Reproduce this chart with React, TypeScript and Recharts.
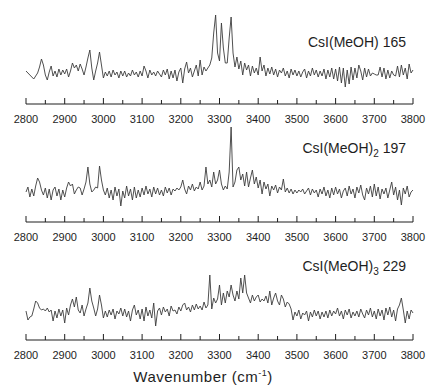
import React from 'react';
import { LineChart, Line, XAxis, YAxis } from 'recharts';

// sampling grid of the spectra (cm-1)
const WAVENUMBERS = Array.from({ length: 201 }, (_, i) => 2800 + i * 5);

const TICKS = [
  2800, 2850, 2900, 2950, 3000, 3050, 3100, 3150, 3200, 3250, 3300,
  3350, 3400, 3450, 3500, 3550, 3600, 3650, 3700, 3750, 3800,
];

// CsI(MeOH) 165
const spec1 = [
  2, 0, -2, -4, -6, -3, 0, 6, 14, 8,
  -2, -7, 1, 7, -3, 2, -4, 4, -2, 3,
  -1, 4, -4, 2, 10, 5, 8, 2, 9, 4,
  -2, 6, 15, 23, 5, -7, 2, 10, 21, 8,
  -5, 1, -3, 2, -4, 3, -2, 1, -5, 2,
  -3, 2, -4, 0, -3, 3, -2, 1, -4, 2,
  -3, 7, 2, -5, 3, -2, 1, -3, 2, -1,
  -4, 3, -2, 4, -6, 2, -5, 3, -8, 1,
  5, -10, 4, 11, 0, 5, -4, 2, 8, -3,
  13, -2, 6, 2, 5, 8, 15, 40, 58, 20,
  12, 50, 25, 10, 10, 35, 56, 20, 6, 16,
  4, 12, -2, 10, 3, 8, -3, 7, 0, 5,
  -2, 16, 2, 8, -3, 5, -1, 6, -2, 4,
  -4, 3, 0, 5, -3, 2, -5, 4, -2, 3,
  -3, 2, -4, 1, 4, -5, 2, -3, 5, -2,
  3, -4, 2, -3, 4, -6, 3, -4, 5, -6,
  4, -8, 6, -10, 5, -14, 3, -11, 6, -7,
  5, -5, 8, 2, -7, 5, -4, 4, -3, 0,
  -1, -2, -2, 6, -4, 5, -6, 3, -5, 2,
  -2, -3, 7, -4, 8, -2, 5, -6, 9, 0,
  3,
];

// CsI(MeOH)2 197
const spec2 = [
  0, 5, -5, 3, -4, 6, 14, 10, 2, -3,
  4, -6, 3, -8, 2, 5, -4, 3, -8, 2,
  -5, 4, 10, 6, 8, -2, 2, 5, 4, -3,
  3, 10, 25, 8, 0, 2, 5, 4, 26, 12,
  2, -3, 4, -6, 2, -8, 5, -4, 3, -14,
  1, -6, 6, -4, 3, -8, 5, -6, 2, -5,
  4, -3, 6, -2, 3, -5, 5, -2, 4, -3,
  2, -4, 5, -1, 4, -3, 3, 1, 4, 2,
  5, 12, 3, -2, 6, 2, 8, 1, 5, 3,
  10, 2, 6, 25, 8, 12, 5, 20, 8, 12,
  22, 8, 2, 6, 3, 20, 65, 5, 10, 22,
  25, 12, 18, 6, 20, 5, 14, 22, 8, 15,
  4, 12, -2, 10, 3, 8, -4, 6, 2, 7,
  -1, 5, 2, 13, 0, 4, -1, 3, -2, 2,
  -1, 2, 0, 3, -2, 1, 4, -3, 3, -1,
  2, -5, 3, -2, 5, -4, 2, -6, 4, -3,
  5, -2, 3, -6, 1, 4, -4, 6, -2, 3,
  -6, 5, -1, 7, -3, -8, 4, -2, 6, -5,
  8, -4, 5, -7, 3, -2, 4, -6, 2, 10,
  -3, 5, -8, 2, -13, 4, -2, 6, -5, 0,
  2,
];

// CsI(MeOH)3 229
const spec3 = [
  2, -7, -4, -3, 4, 12, 10, 5, 3, 4,
  2, 5, 1, 3, -8, 2, -5, 4, -3, 3,
  -10, 5, -2, 8, 14, 6, 16, 3, 0, 8,
  -3, 4, 10, 25, 12, 5, -3, 4, 18, 8,
  -5, 2, -4, 3, -2, 4, -6, 2, -1, 5,
  -3, 4, -4, 2, -8, 3, 8, -2, 3, -6,
  4, -8, 6, -3, 3, -5, 10, -13, 2, 5,
  -2, 6, 1, 4, -3, 7, 2, 3, -1, 6,
  2, 8, 10, 3, 6, 1, 8, 3, 9, 4,
  7, 3, 11, 5, 8, 38, 4, 15, 10, 14,
  28, 8, 20, 10, 22, 16, 28, 18, 12, 22,
  14, 35, 20, 38, 20, 15, 10, 18, 12, 16,
  18, 11, 14, 12, 17, 10, 22, 8, 15, 20,
  12, 8, 18, 14, 6, 11, 9, 4, -7, 1,
  -3, 3, -6, 0, -2, 2, -8, 1, -4, 3,
  -3, 2, -6, 1, -4, 2, -5, 3, -3, 2,
  -1, 5, -3, 2, -6, 3, -2, 4, -5, 1,
  -3, 2, -4, 4, -1, -5, 3, -2, 5, -4,
  2, -6, 4, -3, 3, -7, 5, -2, 6, -4,
  3, -8, 4, 8, 15, 3, -10, 2, -6, 3,
  0,
];

const FONT = '"Liberation Sans", Arial, Helvetica, sans-serif';
const INK = '#1e1e1e';

const panels = [
  { values: spec1, domain: [-31, 73], top: 0 },
  { values: spec2, domain: [-30, 74], top: 118 },
  { values: spec3, domain: [-27, 77], top: 236 },
];

const AxisTick = (props: any) => {
  const { x, y, payload } = props;
  const major = payload.value % 100 === 0;
  return (
    <g>
      <line x1={x} x2={x} y1={y} y2={y - (major ? 6 : 4)} stroke={INK} strokeWidth={1} />
      {major && (
        <text x={x} y={y + 18.5} textAnchor="middle" fontSize={11} fill={INK} fontFamily={FONT}>
          {payload.value}
        </text>
      )}
    </g>
  );
};

const SpectrumPanel = ({ values, domain }: { values: number[]; domain: number[] }) => {
  const rows = WAVENUMBERS.map((w, i) => ({ w, v: values[i] }));
  return (
    <LineChart width={426} height={125} data={rows} margin={{ top: 0, right: 13, left: 26, bottom: 1 }}>
      <XAxis
        dataKey="w"
        type="number"
        domain={[2800, 3800]}
        ticks={TICKS}
        interval={0}
        height={20}
        tickSize={0}
        tickMargin={0}
        tickLine={false}
        axisLine={{ stroke: INK, strokeWidth: 1 }}
        tick={<AxisTick />}
      />
      <YAxis hide domain={domain} allowDataOverflow />
      <Line
        type="linear"
        dataKey="v"
        stroke="#3c3c3c"
        strokeWidth={0.9}
        dot={false}
        isAnimationActive={false}
      />
    </LineChart>
  );
};

export default function App() {
  return (
    <div style={{ position: 'absolute', left: 0, top: 0, width: 426, height: 385, background: '#fff' }}>
      {panels.map((p, i) => (
        <div key={i} style={{ position: 'absolute', left: 0, top: p.top }}>
          <SpectrumPanel values={p.values} domain={p.domain} />
        </div>
      ))}
      <svg
        width={426}
        height={385}
        style={{ position: 'absolute', left: 0, top: 0, pointerEvents: 'none' }}
        fontFamily={FONT}
        fill={INK}
      >
        <text x={406} y={47} textAnchor="end" fontSize={14}>CsI(MeOH) 165</text>
        <text x={406} y={153} textAnchor="end" fontSize={14}>
          CsI(MeOH)<tspan fontSize={10} dy={4}>2</tspan>
          <tspan dy={-4}> 197</tspan>
        </text>
        <text x={406} y={271} textAnchor="end" fontSize={14}>
          CsI(MeOH)<tspan fontSize={10} dy={4}>3</tspan>
          <tspan dy={-4}> 229</tspan>
        </text>
        <text x={203} y={382} textAnchor="middle" fontSize={15} letterSpacing={0.5}>
          Wavenumber (cm<tspan fontSize={9} dy={-6}>-1</tspan>
          <tspan dy={6}>)</tspan>
        </text>
      </svg>
    </div>
  );
}
